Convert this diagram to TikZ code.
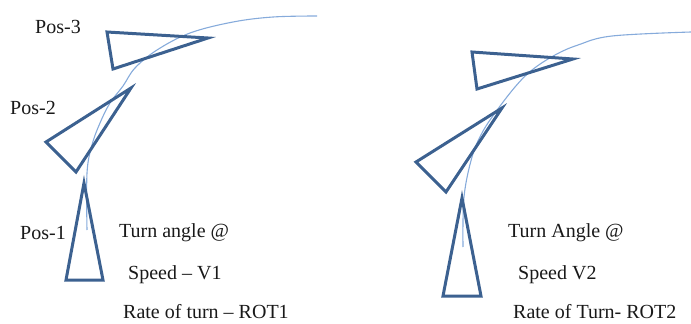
\documentclass[tikz,border=0pt]{standalone}
\usepackage{fontspec}
\setmainfont{Liberation Serif}
\definecolor{tri}{HTML}{3C6190}
\definecolor{path}{HTML}{86ABDB}
\tikzset{
  craft/.style={draw=tri,line width=3pt,line join=miter},
  track/.style={draw=path,line width=1.1pt},
  lbl/.style={font=\fontsize{20}{22}\selectfont,inner sep=0pt,text=black!90}
}
\begin{document}
\begin{tikzpicture}[x=1pt,y=-1pt]
\useasboundingbox (0,0) rectangle (691,324);
% left panel
\draw[track] plot[smooth,tension=0.6] coordinates {(87,230) (87,173) (92,145) (100,123) (110,103) (123,86) (135,68) (157,50) (190,33) (233,22) (273,17) (317,16)};
\draw[craft] (84,183) -- (103,280) -- (66,280) -- cycle;
\draw[craft] (131,88) -- (76,172) -- (46,142) -- cycle;
\draw[craft] (208,38) -- (113,69) -- (107,32) -- cycle;
\node[lbl] (p3a) at (58,27) {Pos-3};
\node[lbl] (p2a) at (33,108) {Pos-2};
\node[lbl] (p1a) at (43,233) {Pos-1};
\node[lbl,anchor=west] (ta1) at (119,233) {Turn angle @};
\node[lbl,anchor=west] (sp1) at (128,275) {Speed -- V1};
\node[lbl,anchor=west] (rt1) at (123,312) {Rate of turn -- ROT1};
% right panel
\draw[track] plot[smooth,tension=0.6] coordinates {(463,247) (464,197) (472,157) (482,133) (495,113) (515,87) (532,70) (555,55) (578,45) (612,36) (691,32)};
\draw[craft] (462,198) -- (481,296) -- (443,296) -- cycle;
\draw[craft] (502,108) -- (446,192) -- (416,162) -- cycle;
\draw[craft] (573,59) -- (477,89) -- (472,52) -- cycle;
\node[lbl,anchor=west] (ta2) at (508,233) {Turn Angle @};
\node[lbl,anchor=west] (sp2) at (518,275) {Speed V2};
\node[lbl,anchor=west] (rt2) at (513,312) {Rate of Turn- ROT2};
\end{tikzpicture}
\end{document}
